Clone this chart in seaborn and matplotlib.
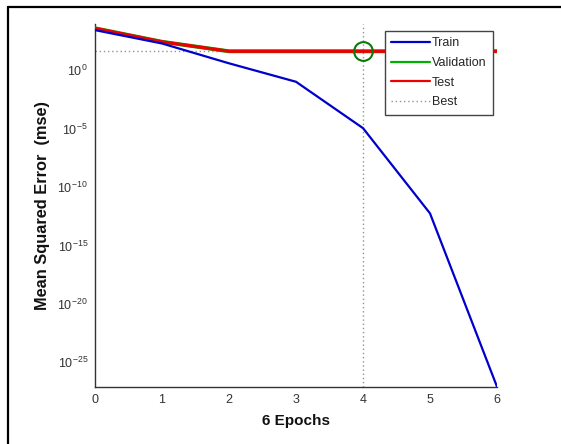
import matplotlib
matplotlib.use("Agg")
import matplotlib.pyplot as plt
import seaborn as sns
import pandas as pd
from matplotlib.lines import Line2D
from matplotlib.ticker import FixedLocator, NullLocator, FixedFormatter

# ---- data ----
epochs = [0, 1, 2, 3, 4, 5, 6]
train = [2.8e3, 2.0e2, 4.0, 1.05e-1, 1.12e-5, 5.6e-13, 7.9e-28]
validation = [4.0e3, 2.8e2, 4.3e1, 4.3e1, 4.3e1, 4.3e1, 4.3e1]
test = [4.0e3, 2.8e2, 4.3e1, 4.3e1, 4.3e1, 4.3e1, 4.3e1]
best_epoch = 4
best_value = 4.3e1
x_ticks = [0, 1, 2, 3, 4, 5, 6]
y_ticks = [1e-25, 1e-20, 1e-15, 1e-10, 1e-5, 1e0]
y_ticklabels = [r"$10^{-25}$", r"$10^{-20}$", r"$10^{-15}$", r"$10^{-10}$", r"$10^{-5}$", r"$10^{0}$"]
legend_labels = ["Train", "Validation", "Test", "Best"]

sns.set_style("white")
plt.rcParams["font.family"] = ["Liberation Sans", "DejaVu Sans"]
plt.rcParams["mathtext.fontset"] = "custom"
plt.rcParams["mathtext.rm"] = "Liberation Sans"
plt.rcParams["mathtext.it"] = "Liberation Sans"
plt.rcParams["mathtext.bf"] = "Liberation Sans:bold"

W, H = 561, 444
fig = plt.figure(figsize=(W / 100, H / 100), dpi=100)
ax = fig.add_axes([95 / W, 1 - 386.7 / H, (497 - 95) / W, (386.7 - 24) / H])

df = pd.DataFrame({"epoch": epochs, "train": train, "validation": validation, "test": test})

sns.lineplot(data=df, x="epoch", y="validation", ax=ax, color="#00b000", linewidth=2.8, zorder=3)
sns.lineplot(data=df, x="epoch", y="test", ax=ax, color="#ee0000", linewidth=2.3, zorder=4)
sns.lineplot(data=df, x="epoch", y="train", ax=ax, color="#0000cc", linewidth=1.6, zorder=5)

ax.set_yscale("log")
ax.set_xlim(0, 6)
ax.set_ylim(10 ** -27.1, 10 ** 3.97)

# best markers
best_col = "#8a9a8a"
ax.axvline(best_epoch, color=best_col, linestyle=(0, (1, 2)), linewidth=1.0, zorder=2)
ax.plot([0, best_epoch], [best_value, best_value], color=best_col, linestyle=(0, (1, 2)), linewidth=1.0, zorder=2)
ax.plot([best_epoch], [best_value], marker="o", markersize=13.5, markerfacecolor="none",
        markeredgecolor="#0a7a0a", markeredgewidth=1.5, zorder=6, linestyle="none")

ax.xaxis.set_major_locator(FixedLocator(x_ticks))
ax.yaxis.set_major_locator(FixedLocator(y_ticks))
ax.yaxis.set_major_formatter(FixedFormatter(y_ticklabels))
ax.yaxis.set_minor_locator(NullLocator())
ax.tick_params(axis="both", direction="in", length=4.5, width=1, colors="#333333",
               labelsize=9, labelcolor="#333333", pad=5)
for s in ["top", "right"]:
    ax.spines[s].set_visible(False)
for s in ["left", "bottom"]:
    ax.spines[s].set_color("#333333")
    ax.spines[s].set_linewidth(1.0)

ax.set_xlabel("6 Epochs", fontsize=11, fontweight="bold", color="#111111")
ax.set_ylabel("Mean Squared Error  (mse)", fontsize=11.8, fontweight="bold", color="#111111")
ax.xaxis.set_label_coords(0.5, -(414 - 386.7) / (386.7 - 24))
ax.yaxis.set_label_coords(-(95 - 50) / (497 - 95), 0.5)

handles = [
    Line2D([], [], color="#0000cc", linewidth=1.6),
    Line2D([], [], color="#00b000", linewidth=1.6),
    Line2D([], [], color="#ee0000", linewidth=1.6),
    Line2D([], [], color=best_col, linewidth=1.0, linestyle=(0, (1, 2))),
]
leg = ax.legend(handles, legend_labels, loc="upper left",
                bbox_to_anchor=((385 - 95) / (497 - 95), 1 - (31 - 24) / (386.7 - 24)),
                fontsize=9, frameon=True, fancybox=False, framealpha=1.0, handlelength=3.1,
                handletextpad=0.15, borderpad=0.5, labelspacing=0.62, borderaxespad=0)
leg.get_frame().set_edgecolor("#444444")
leg.get_frame().set_linewidth(1.0)
leg.set_zorder(10)

# outer frame (left and top edges)
fig.add_artist(Line2D([7.5 / W, 7.5 / W], [0, 1 - 7.5 / H], transform=fig.transFigure, color="black", linewidth=1.6))
fig.add_artist(Line2D([7.5 / W, 1], [1 - 7.5 / H, 1 - 7.5 / H], transform=fig.transFigure, color="black", linewidth=1.6))

fig.savefig("out.png", dpi=100)
